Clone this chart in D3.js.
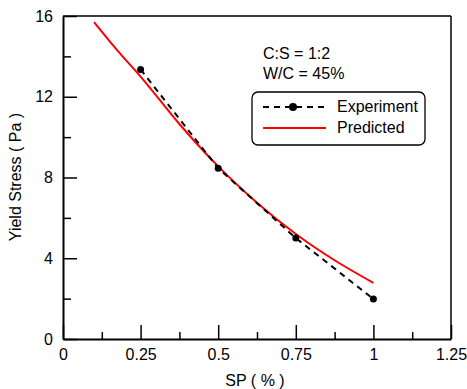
<!DOCTYPE html>
<html>
<head>
<meta charset="utf-8">
<script src="https://cdn.jsdelivr.net/npm/d3@7"></script>
<style>
  body { margin: 0; background: #fff; }
  svg { font-family: "Liberation Sans", Arial, sans-serif; }
  .axis path { stroke: #000; stroke-width: 2; }
  .axis line { stroke: #000; stroke-width: 1.5; }
  .axis text { font-size: 16px; fill: #000; font-family: "Liberation Sans", Arial, sans-serif; }
</style>
</head>
<body>
<svg id="viz"></svg>
<script>
// experiment points
const expSP = [0.25, 0.5, 0.75, 1.0];
const expStress = [13.35, 8.46, 5.0, 1.98];
// predicted curve
const predSP = [0.1, 0.175, 0.25, 0.375, 0.5, 0.625, 0.75, 0.875, 1.0];
const predStress = [15.7, 14.3, 13.0, 10.65, 8.55, 6.75, 5.2, 3.9, 2.78];
// ticks
const xMajor = [0, 0.25, 0.5, 0.75, 1, 1.25];
const xMinor = [0.125, 0.375, 0.625, 0.875, 1.125];
const yMajor = [0, 4, 8, 12, 16];
const yMinor = [2, 6, 10, 14];
const notes = ['C:S = 1:2', 'W/C = 45%'];
const legendNames = ['Experiment', 'Predicted'];

var width = 467, height = 389;
var margin = {top: 16, right: 16, bottom: 50, left: 63};
var drawWidth = 451 - margin.left;
var drawHeight = 339 - margin.top;

var svg = d3.select('#viz').attr('width', width).attr('height', height);
var g = svg.append('g').attr('transform', `translate(${margin.left},${margin.top})`);

var xScale = d3.scaleLinear().domain([0, 1.25]).range([0, drawWidth]);
var yScale = d3.scaleLinear().domain([0, 16]).range([drawHeight, 0]);

// frame top / right
g.append('line').attr('x1', 0).attr('x2', drawWidth).attr('y1', 0).attr('y2', 0)
  .attr('stroke', '#000').attr('stroke-width', 1.5);
g.append('line').attr('x1', drawWidth).attr('x2', drawWidth).attr('y1', 0).attr('y2', drawHeight)
  .attr('stroke', '#000').attr('stroke-width', 1.5);

// minor ticks
g.append('g').attr('class', 'axis').attr('transform', `translate(0,${drawHeight})`)
  .call(d3.axisBottom(xScale).tickValues(xMinor).tickSize(-7).tickFormat(''))
  .select('.domain').remove();
g.append('g').attr('class', 'axis')
  .call(d3.axisLeft(yScale).tickValues(yMinor).tickSize(-8).tickFormat(''))
  .select('.domain').remove();

// major axes
var fmtX = d => d3.format('')(d);
g.append('g').attr('class', 'axis').attr('transform', `translate(0,${drawHeight})`)
  .call(d3.axisBottom(xScale).tickValues(xMajor).tickSizeInner(-14).tickSizeOuter(0)
    .tickPadding(10).tickFormat(fmtX));
g.append('g').attr('class', 'axis')
  .call(d3.axisLeft(yScale).tickValues(yMajor).tickSizeInner(-14).tickSizeOuter(0)
    .tickPadding(10).tickFormat(d3.format('d')));

// predicted
var line = d3.line().curve(d3.curveMonotoneX).x(d => xScale(d[0])).y(d => yScale(d[1]));
g.append('path').datum(predSP.map((v, i) => [v, predStress[i]]))
  .attr('d', line).attr('fill', 'none').attr('stroke', '#ff0000').attr('stroke-width', 2);

// experiment
var expData = expSP.map((v, i) => [v, expStress[i]]);
g.append('path').datum(expData)
  .attr('d', d3.line().x(d => xScale(d[0])).y(d => yScale(d[1])))
  .attr('fill', 'none').attr('stroke', '#000').attr('stroke-width', 2)
  .attr('stroke-dasharray', '6,5');
g.selectAll('circle.exp').data(expData).enter().append('circle')
  .attr('class', 'exp')
  .attr('cx', d => xScale(d[0])).attr('cy', d => yScale(d[1]))
  .attr('r', 3.5).attr('fill', '#000');

// notes
svg.selectAll('text.note').data(notes).enter().append('text')
  .attr('class', 'note')
  .attr('x', 263).attr('y', (d, i) => 59 + i * 20)
  .attr('font-size', '16px').text(d => d);

// legend
var legend = svg.append('g');
legend.append('rect').attr('x', 252).attr('y', 92).attr('width', 173).attr('height', 53)
  .attr('rx', 6).attr('fill', '#fff').attr('stroke', '#000').attr('stroke-width', 1.3);
legend.append('line').attr('x1', 263).attr('x2', 324).attr('y1', 107).attr('y2', 107)
  .attr('stroke', '#000').attr('stroke-width', 2).attr('stroke-dasharray', '6,5');
legend.append('circle').attr('cx', 293).attr('cy', 107).attr('r', 4).attr('fill', '#000');
legend.append('line').attr('x1', 263).attr('x2', 326).attr('y1', 128).attr('y2', 128)
  .attr('stroke', '#ff0000').attr('stroke-width', 2);
legend.selectAll('text').data(legendNames).enter().append('text')
  .attr('x', 337).attr('y', (d, i) => 112 + i * 21)
  .attr('font-size', '16px').text(d => d);

// axis titles
svg.append('text').attr('x', 255).attr('y', 386).attr('text-anchor', 'middle')
  .attr('font-size', '16px').text('SP ( % )');
svg.append('text').attr('transform', 'translate(21,177) rotate(-90)')
  .attr('text-anchor', 'middle').attr('font-size', '16px').text('Yield Stress ( Pa )');
</script>
</body>
</html>
